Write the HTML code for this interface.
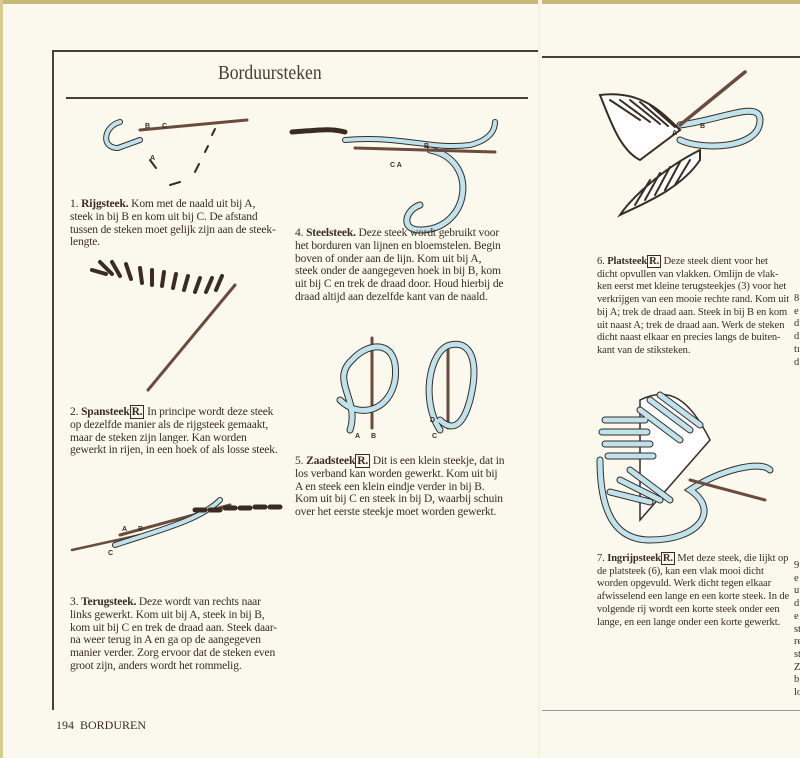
<!DOCTYPE html>
<html><head><meta charset="utf-8"><style>
body{margin:0;width:800px;height:758px;background:#fbf9ee;position:relative;overflow:hidden;font-family:"Liberation Serif",serif;color:#3a2c22}
.t{position:absolute;font-size:11.5px;line-height:12.8px;white-space:nowrap;letter-spacing:-0.15px}
.t.s{font-size:10.5px;line-height:12.7px;letter-spacing:-0.1px}
.t b{font-weight:bold}
.r{border:1px solid #3a2c22;padding:0 1px;font-weight:bold}
.ln{position:absolute;background:#4a3f38}
</style></head><body>
<div style="position:absolute;left:0;top:0;width:800px;height:4px;background:#c9b878"></div>
<div style="position:absolute;left:0;top:0;width:3px;height:758px;background:#d8c990"></div>
<div class="ln" style="left:52px;top:50px;width:488px;height:2px"></div>
<div class="ln" style="left:52px;top:50px;width:2px;height:660px"></div>
<div class="ln" style="left:540px;top:56px;width:260px;height:2px"></div>
<div class="ln" style="left:66px;top:97px;width:462px;height:2px"></div>
<div class="ln" style="left:540px;top:710px;width:260px;height:1px;background:#999"></div>
<div style="position:absolute;left:538px;top:0;width:4px;height:758px;background:linear-gradient(90deg,#f3efe0,#fbf9ee)"></div>
<div style="position:absolute;left:218px;top:62px;font-size:20px;color:#4a3c32;transform:scaleX(0.88);transform-origin:left">Borduursteken</div>
<div style="position:absolute;left:56px;top:718px;font-size:12px">194 &nbsp;BORDUREN</div>

<svg width="800" height="758" style="position:absolute;left:0;top:0" fill="none" stroke-linecap="round">
<g stroke="#3a2c22" stroke-width="1.2">
<path d="M120 122 C104 126 100 148 118 148 L140 140" stroke-width="6" stroke="#3a2c22"/><path d="M120 122 C104 126 100 148 118 148 L140 140" stroke-width="4" stroke="#bfe3ee"/>
<path d="M140 130 L247 120" stroke="#6b4c3c" stroke-width="3"/>
<path d="M150 160 l6 8 M170 185 l10 -3 M195 172 l4 -8 M205 152 l3 -6 M212 135 l3 -6" stroke-width="2"/>
<path d="M92 270 l14 4 M100 262 l12 12 M112 262 l8 14 M126 264 l5 15 M140 268 l2 15 M152 270 l0 15 M164 272 l-2 14 M176 274 l-3 14 M188 276 l-4 14 M200 278 l-5 14 M212 278 l-6 14 M222 276 l-6 14" stroke-width="4"/>
<path d="M148 390 L235 285" stroke="#6b4c3c" stroke-width="3"/>
<path d="M72 550 L140 535" stroke="#6b4c3c" stroke-width="2.5"/>
<path d="M120 535 L230 505" stroke="#6b4c3c" stroke-width="3"/>
<path d="M115 545 C160 530 200 520 220 500" stroke-width="6"/><path d="M115 545 C160 530 200 520 220 500" stroke-width="4" stroke="#bfe3ee"/>
<path d="M195 510 l10 0 M210 510 l10 0 M225 508 l10 0 M240 508 l10 0 M255 507 l10 0 M270 507 l10 0" stroke-width="5"/>
<path d="M292 132 C320 130 330 128 345 132" stroke-width="5"/>
<path d="M345 140 C400 135 430 150 470 145 C490 140 495 130 495 122" stroke-width="6"/><path d="M345 140 C400 135 430 150 470 145 C490 140 495 130 495 122" stroke-width="4" stroke="#bfe3ee"/>
<path d="M430 150 C480 160 470 230 420 230 C400 230 405 210 420 205" stroke-width="7"/><path d="M430 150 C480 160 470 230 420 230 C400 230 405 210 420 205" stroke-width="5" stroke="#bfe3ee"/>
<path d="M355 148 L495 152" stroke="#6b4c3c" stroke-width="3"/>
<path d="M372 338 L372 428 M448 350 L448 428" stroke="#6b4c3c" stroke-width="3"/>
<path d="M350 430 C360 400 330 380 352 360 C370 340 400 340 395 380 C390 410 360 420 340 400" stroke-width="7"/><path d="M350 430 C360 400 330 380 352 360 C370 340 400 340 395 380 C390 410 360 420 340 400" stroke-width="5" stroke="#bfe3ee"/>
<path d="M440 430 C420 400 430 350 450 345 C470 340 480 360 470 400 C462 430 450 430 440 420" stroke-width="7"/><path d="M440 430 C420 400 430 350 450 345 C470 340 480 360 470 400 C462 430 450 430 440 420" stroke-width="5" stroke="#bfe3ee"/>
<path d="M600 95 C640 90 660 110 680 130 L640 160 C620 150 610 120 600 95Z" stroke-width="2" fill="#fff"/>
<path d="M610 100 l30 20 M620 100 l30 22 M630 100 l30 24 M640 102 l28 24 M650 105 l25 22" stroke-width="2"/>
<path d="M700 150 C660 170 630 200 620 215 C640 205 680 190 700 160Z" stroke-width="2" fill="#fff"/>
<path d="M635 205 l15 -25 M645 200 l15 -27 M655 195 l15 -28 M665 190 l15 -28 M675 185 l15 -25" stroke-width="2"/>
<path d="M680 125 C720 120 760 100 760 120 C760 150 700 150 680 140" stroke-width="7"/><path d="M680 125 C720 120 760 100 760 120 C760 150 700 150 680 140" stroke-width="5" stroke="#bfe3ee"/>
<path d="M680 125 L745 72" stroke="#6b4c3c" stroke-width="3.5"/>
<path d="M640 400 C670 385 690 400 710 440 L640 520 Z" fill="#fff" stroke-width="1.5"/>
<path d="M605 420 l40 0 M602 432 l45 0 M605 444 l45 0 M608 456 l45 0 M640 410 l40 30 M650 400 l40 30 M660 395 l40 30 M630 470 l40 30 M620 480 l40 20 M610 492 l40 10" stroke-width="7"/>
<path d="M605 420 l40 0 M602 432 l45 0 M605 444 l45 0 M608 456 l45 0 M640 410 l40 30 M650 400 l40 30 M660 395 l40 30 M630 470 l40 30 M620 480 l40 20 M610 492 l40 10" stroke-width="5" stroke="#bfe3ee"/>
<path d="M600 460 C600 520 620 540 650 540 C700 540 720 510 690 490 C720 470 760 460 770 470" stroke-width="7"/><path d="M600 460 C600 520 620 540 650 540 C700 540 720 510 690 490 C720 470 760 460 770 470" stroke-width="5" stroke="#bfe3ee"/>
<path d="M690 480 L765 500" stroke="#6b4c3c" stroke-width="3"/>
</g>
<g font-family="Liberation Sans" font-size="7" fill="#3a2c22" font-weight="bold">
<text x="145" y="128">B</text><text x="162" y="128">C</text><text x="150" y="160">A</text>
<text x="390" y="167">C A</text><text x="424" y="148">B</text>
<text x="122" y="531">A</text><text x="138" y="531">B</text><text x="108" y="555">C</text>
<text x="355" y="438">A</text><text x="371" y="438">B</text><text x="430" y="422">D</text><text x="432" y="438">C</text>
<text x="672" y="135">A</text><text x="700" y="128">B</text>
</g>
</svg>

<div class="t" style="left:70px;top:198px">1. <b>Rijgsteek.</b> Kom met de naald uit bij A,<br>steek in bij B en kom uit bij C. De afstand<br>tussen de steken moet gelijk zijn aan de steek-<br>lengte.</div>
<div class="t" style="left:70px;top:406px">2. <b>Spansteek</b><span class="r">R.</span> In principe wordt deze steek<br>op dezelfde manier als de rijgsteek gemaakt,<br>maar de steken zijn langer. Kan worden<br>gewerkt in rijen, in een hoek of als losse steek.</div>
<div class="t" style="left:70px;top:596px">3. <b>Terugsteek.</b> Deze wordt van rechts naar<br>links gewerkt. Kom uit bij A, steek in bij B,<br>kom uit bij C en trek de draad aan. Steek daar-<br>na weer terug in A en ga op de aangegeven<br>manier verder. Zorg ervoor dat de steken even<br>groot zijn, anders wordt het rommelig.</div>
<div class="t" style="left:295px;top:227px">4. <b>Steelsteek.</b> Deze steek wordt gebruikt voor<br>het borduren van lijnen en bloemstelen. Begin<br>boven of onder aan de lijn. Kom uit bij A,<br>steek onder de aangegeven hoek in bij B, kom<br>uit bij C en trek de draad door. Houd hierbij de<br>draad altijd aan dezelfde kant van de naald.</div>
<div class="t" style="left:295px;top:455px">5. <b>Zaadsteek</b><span class="r">R.</span> Dit is een klein steekje, dat in<br>los verband kan worden gewerkt. Kom uit bij<br>A en steek een klein eindje verder in bij B.<br>Kom uit bij C en steek in bij D, waarbij schuin<br>over het eerste steekje moet worden gewerkt.</div>
<div class="t s" style="left:597px;top:256px">6. <b>Platsteek</b><span class="r">R.</span> Deze steek dient voor het<br>dicht opvullen van vlakken. Omlijn de vlak-<br>ken eerst met kleine terugsteekjes (3) voor het<br>verkrijgen van een mooie rechte rand. Kom uit<br>bij A; trek de draad aan. Steek in bij B en kom<br>uit naast A; trek de draad aan. Werk de steken<br>dicht naast elkaar en precies langs de buiten-<br>kant van de stiksteken.</div>
<div class="t s" style="left:597px;top:553px">7. <b>Ingrijpsteek</b><span class="r">R.</span> Met deze steek, die lijkt op<br>de platsteek (6), kan een vlak mooi dicht<br>worden opgevuld. Werk dicht tegen elkaar<br>afwisselend een lange en een korte steek. In de<br>volgende rij wordt een korte steek onder een<br>lange, en een lange onder een korte gewerkt.</div>
<div class="t s" style="left:794px;top:293px">8<br>e<br>d<br>d<br>tı<br>d</div>
<div class="t s" style="left:794px;top:560px">9<br>e<br>u<br>d<br>e<br>st<br>re<br>st<br>Z<br>b<br>lo</div>
</body></html>
